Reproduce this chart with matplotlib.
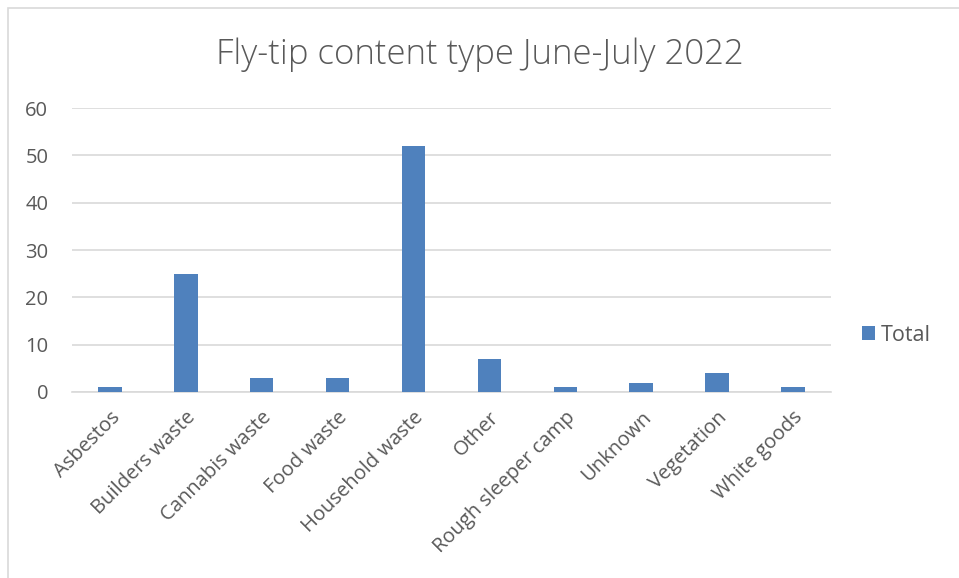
import matplotlib
matplotlib.use("Agg")
import matplotlib.pyplot as plt
from matplotlib.patches import Rectangle
from matplotlib.transforms import ScaledTranslation

categories = ["Asbestos", "Builders waste", "Cannabis waste", "Food waste",
              "Household waste", "Other", "Rough sleeper camp", "Unknown",
              "Vegetation", "White goods"]
totals = [1, 25, 3, 3, 52, 7, 1, 2, 4, 1]
y_ticks = [0, 10, 20, 30, 40, 50, 60]

plt.rcParams["font.family"] = ["Open Sans", "DejaVu Sans"]
grey = "#595959"
bar_colour = "#4f81bd"

fig = plt.figure(figsize=(9.59, 5.78), dpi=100)
ax = fig.add_axes([0.075, 0.3218, 0.7915, 0.4912])

# outer chart border (cropped on the right and bottom)
top = 1 - 8 / 578
fig.patches.append(Rectangle((8 / 959, -0.1), 1.2, top + 0.1, transform=fig.transFigure,
                             fill=False, edgecolor="#d9d9d9", lw=1.2))

x = range(len(categories))
ax.bar(x, totals, width=0.31, color=bar_colour, label="Total", zorder=3)

ax.set_xlim(-0.5, len(categories) - 0.5)
ax.set_ylim(0, 60)
ax.set_yticks(y_ticks)
ax.yaxis.grid(True, color="#d9d9d9", lw=1.2, zorder=0)
for side in ["top", "right", "left"]:
    ax.spines[side].set_visible(False)
ax.spines["bottom"].set_color("#d9d9d9")
ax.spines["bottom"].set_linewidth(1.2)
ax.tick_params(length=0, labelsize=14.5, colors=grey)
ax.tick_params(axis="y", pad=17)
ax.tick_params(axis="x", pad=12)
ax.set_xticks(list(x))
ax.set_xticklabels(categories, rotation=45, ha="right", va="center",
                   rotation_mode="anchor")
# nudge the slanted labels a bit right and down, as in the original
shift = ScaledTranslation(0.07, -0.06, fig.dpi_scale_trans)
for lab in ax.get_xticklabels():
    lab.set_transform(lab.get_transform() + shift)

fig.text(0.5, 0.905, "Fly-tip content type June-July 2022", ha="center", va="center",
         fontsize=25, color=grey, fontweight="light")

ax.legend(loc="center left", bbox_to_anchor=(1.015, 0.2), frameon=False,
          fontsize=15.5, labelcolor=grey, handlelength=0.6, handleheight=0.65,
          handletextpad=0.3)

fig.savefig("out.png", dpi=100)
